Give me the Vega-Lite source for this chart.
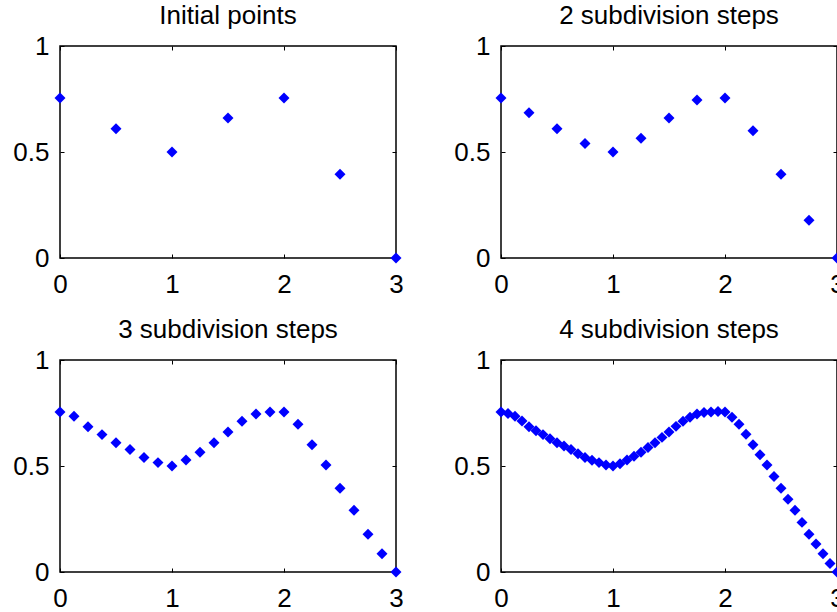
{
  "$schema": "https://vega.github.io/schema/vega-lite/v6.json",
  "background": "white",
  "padding": {"left": 12, "top": 2, "right": 0, "bottom": 0},
  "datasets": {
    "p1": [
      {"x": 0, "y": 0.755}, {"x": 0.5, "y": 0.61}, {"x": 1, "y": 0.5}, {"x": 1.5, "y": 0.66},
      {"x": 2, "y": 0.755}, {"x": 2.5, "y": 0.395}, {"x": 3, "y": 0}
    ],
    "p2": [
      {"x": 0, "y": 0.755}, {"x": 0.25, "y": 0.685}, {"x": 0.5, "y": 0.61}, {"x": 0.75, "y": 0.54},
      {"x": 1, "y": 0.5}, {"x": 1.25, "y": 0.565}, {"x": 1.5, "y": 0.66}, {"x": 1.75, "y": 0.745},
      {"x": 2, "y": 0.755}, {"x": 2.25, "y": 0.6}, {"x": 2.5, "y": 0.395}, {"x": 2.75, "y": 0.178},
      {"x": 3, "y": 0}
    ],
    "p3": [
      {"x": 0, "y": 0.755}, {"x": 0.125, "y": 0.735}, {"x": 0.25, "y": 0.685}, {"x": 0.375, "y": 0.648},
      {"x": 0.5, "y": 0.61}, {"x": 0.625, "y": 0.578}, {"x": 0.75, "y": 0.54}, {"x": 0.875, "y": 0.516},
      {"x": 1, "y": 0.5}, {"x": 1.125, "y": 0.528}, {"x": 1.25, "y": 0.565}, {"x": 1.375, "y": 0.61},
      {"x": 1.5, "y": 0.66}, {"x": 1.625, "y": 0.711}, {"x": 1.75, "y": 0.745}, {"x": 1.875, "y": 0.755},
      {"x": 2, "y": 0.755}, {"x": 2.125, "y": 0.697}, {"x": 2.25, "y": 0.6}, {"x": 2.375, "y": 0.505},
      {"x": 2.5, "y": 0.395}, {"x": 2.625, "y": 0.291}, {"x": 2.75, "y": 0.178}, {"x": 2.875, "y": 0.086},
      {"x": 3, "y": 0}
    ],
    "p4": [
      {"x": 0, "y": 0.755}, {"x": 0.0625, "y": 0.748}, {"x": 0.125, "y": 0.735}, {"x": 0.1875, "y": 0.712},
      {"x": 0.25, "y": 0.685}, {"x": 0.3125, "y": 0.666}, {"x": 0.375, "y": 0.648}, {"x": 0.4375, "y": 0.629},
      {"x": 0.5, "y": 0.61}, {"x": 0.5625, "y": 0.594}, {"x": 0.625, "y": 0.578}, {"x": 0.6875, "y": 0.558},
      {"x": 0.75, "y": 0.54}, {"x": 0.8125, "y": 0.527}, {"x": 0.875, "y": 0.516}, {"x": 0.9375, "y": 0.505},
      {"x": 1, "y": 0.5}, {"x": 1.0625, "y": 0.511}, {"x": 1.125, "y": 0.528}, {"x": 1.1875, "y": 0.546},
      {"x": 1.25, "y": 0.565}, {"x": 1.3125, "y": 0.587}, {"x": 1.375, "y": 0.61}, {"x": 1.4375, "y": 0.635},
      {"x": 1.5, "y": 0.66}, {"x": 1.5625, "y": 0.687}, {"x": 1.625, "y": 0.711}, {"x": 1.6875, "y": 0.73},
      {"x": 1.75, "y": 0.745}, {"x": 1.8125, "y": 0.752}, {"x": 1.875, "y": 0.755}, {"x": 1.9375, "y": 0.757},
      {"x": 2, "y": 0.755}, {"x": 2.0625, "y": 0.73}, {"x": 2.125, "y": 0.697}, {"x": 2.1875, "y": 0.65},
      {"x": 2.25, "y": 0.6}, {"x": 2.3125, "y": 0.553}, {"x": 2.375, "y": 0.505}, {"x": 2.4375, "y": 0.45},
      {"x": 2.5, "y": 0.395}, {"x": 2.5625, "y": 0.343}, {"x": 2.625, "y": 0.291}, {"x": 2.6875, "y": 0.234},
      {"x": 2.75, "y": 0.178}, {"x": 2.8125, "y": 0.132}, {"x": 2.875, "y": 0.086}, {"x": 2.9375, "y": 0.04},
      {"x": 3, "y": 0}
    ]
  },
  "columns": 2,
  "bounds": "flush",
  "spacing": {"row": 102, "column": 105},
  "concat": [
    {
      "title": "Initial points",
      "width": 336, "height": 212,
      "data": {"name": "p1"},
      "layer": [
        {
          "mark": {"type": "point", "shape": "diamond", "filled": true, "color": "#0000ff", "size": 120, "opacity": 1},
          "encoding": {
            "x": {"field": "x", "type": "quantitative", "title": null, "scale": {"domain": [0, 3], "nice": false, "zero": false}, "axis": {"orient": "bottom", "values": [0, 1, 2, 3], "format": "d", "labelPadding": 17, "labelFlush": false}},
            "y": {"field": "y", "type": "quantitative", "title": null, "scale": {"domain": [0, 1], "nice": false, "zero": false}, "axis": {"orient": "left", "values": [0, 0.5, 1], "format": "~g", "labelPadding": 15, "labelFlush": false}}
          }
        },
        {
          "mark": {"type": "point", "opacity": 0},
          "encoding": {
            "x": {"field": "x", "type": "quantitative", "title": null, "axis": {"orient": "top", "values": [0, 1, 2, 3], "labels": false}},
            "y": {"field": "y", "type": "quantitative", "title": null, "axis": {"orient": "right", "values": [0, 0.5, 1], "labels": false}}
          }
        }
      ],
      "resolve": {"axis": {"x": "independent", "y": "independent"}}
    },
    {
      "title": "2 subdivision steps",
      "width": 336, "height": 212,
      "data": {"name": "p2"},
      "layer": [
        {
          "mark": {"type": "point", "shape": "diamond", "filled": true, "color": "#0000ff", "size": 120, "opacity": 1},
          "encoding": {
            "x": {"field": "x", "type": "quantitative", "title": null, "scale": {"domain": [0, 3], "nice": false, "zero": false}, "axis": {"orient": "bottom", "values": [0, 1, 2, 3], "format": "d", "labelPadding": 17, "labelFlush": false}},
            "y": {"field": "y", "type": "quantitative", "title": null, "scale": {"domain": [0, 1], "nice": false, "zero": false}, "axis": {"orient": "left", "values": [0, 0.5, 1], "format": "~g", "labelPadding": 15, "labelFlush": false}}
          }
        },
        {
          "mark": {"type": "point", "opacity": 0},
          "encoding": {
            "x": {"field": "x", "type": "quantitative", "title": null, "axis": {"orient": "top", "values": [0, 1, 2, 3], "labels": false}},
            "y": {"field": "y", "type": "quantitative", "title": null, "axis": {"orient": "right", "values": [0, 0.5, 1], "labels": false}}
          }
        }
      ],
      "resolve": {"axis": {"x": "independent", "y": "independent"}}
    },
    {
      "title": "3 subdivision steps",
      "width": 336, "height": 212,
      "data": {"name": "p3"},
      "layer": [
        {
          "mark": {"type": "point", "shape": "diamond", "filled": true, "color": "#0000ff", "size": 120, "opacity": 1},
          "encoding": {
            "x": {"field": "x", "type": "quantitative", "title": null, "scale": {"domain": [0, 3], "nice": false, "zero": false}, "axis": {"orient": "bottom", "values": [0, 1, 2, 3], "format": "d", "labelPadding": 17, "labelFlush": false}},
            "y": {"field": "y", "type": "quantitative", "title": null, "scale": {"domain": [0, 1], "nice": false, "zero": false}, "axis": {"orient": "left", "values": [0, 0.5, 1], "format": "~g", "labelPadding": 15, "labelFlush": false}}
          }
        },
        {
          "mark": {"type": "point", "opacity": 0},
          "encoding": {
            "x": {"field": "x", "type": "quantitative", "title": null, "axis": {"orient": "top", "values": [0, 1, 2, 3], "labels": false}},
            "y": {"field": "y", "type": "quantitative", "title": null, "axis": {"orient": "right", "values": [0, 0.5, 1], "labels": false}}
          }
        }
      ],
      "resolve": {"axis": {"x": "independent", "y": "independent"}}
    },
    {
      "title": "4 subdivision steps",
      "width": 336, "height": 212,
      "data": {"name": "p4"},
      "layer": [
        {
          "mark": {"type": "point", "shape": "diamond", "filled": true, "color": "#0000ff", "size": 120, "opacity": 1},
          "encoding": {
            "x": {"field": "x", "type": "quantitative", "title": null, "scale": {"domain": [0, 3], "nice": false, "zero": false}, "axis": {"orient": "bottom", "values": [0, 1, 2, 3], "format": "d", "labelPadding": 17, "labelFlush": false}},
            "y": {"field": "y", "type": "quantitative", "title": null, "scale": {"domain": [0, 1], "nice": false, "zero": false}, "axis": {"orient": "left", "values": [0, 0.5, 1], "format": "~g", "labelPadding": 15, "labelFlush": false}}
          }
        },
        {
          "mark": {"type": "point", "opacity": 0},
          "encoding": {
            "x": {"field": "x", "type": "quantitative", "title": null, "axis": {"orient": "top", "values": [0, 1, 2, 3], "labels": false}},
            "y": {"field": "y", "type": "quantitative", "title": null, "axis": {"orient": "right", "values": [0, 0.5, 1], "labels": false}}
          }
        }
      ],
      "resolve": {"axis": {"x": "independent", "y": "independent"}}
    }
  ],
  "config": {
    "font": "Liberation Sans",
    "view": {"stroke": "#000000", "strokeWidth": 1.5},
    "title": {"fontSize": 26, "fontWeight": "normal", "color": "#000000", "offset": 4},
    "axis": {
      "grid": false,
      "domain": false,
      "tickColor": "#000000",
      "tickSize": -4,
      "tickWidth": 1,
      "labelFontSize": 26,
      "labelColor": "#000000",
      "labelFont": "Liberation Sans"
    }
  }
}
